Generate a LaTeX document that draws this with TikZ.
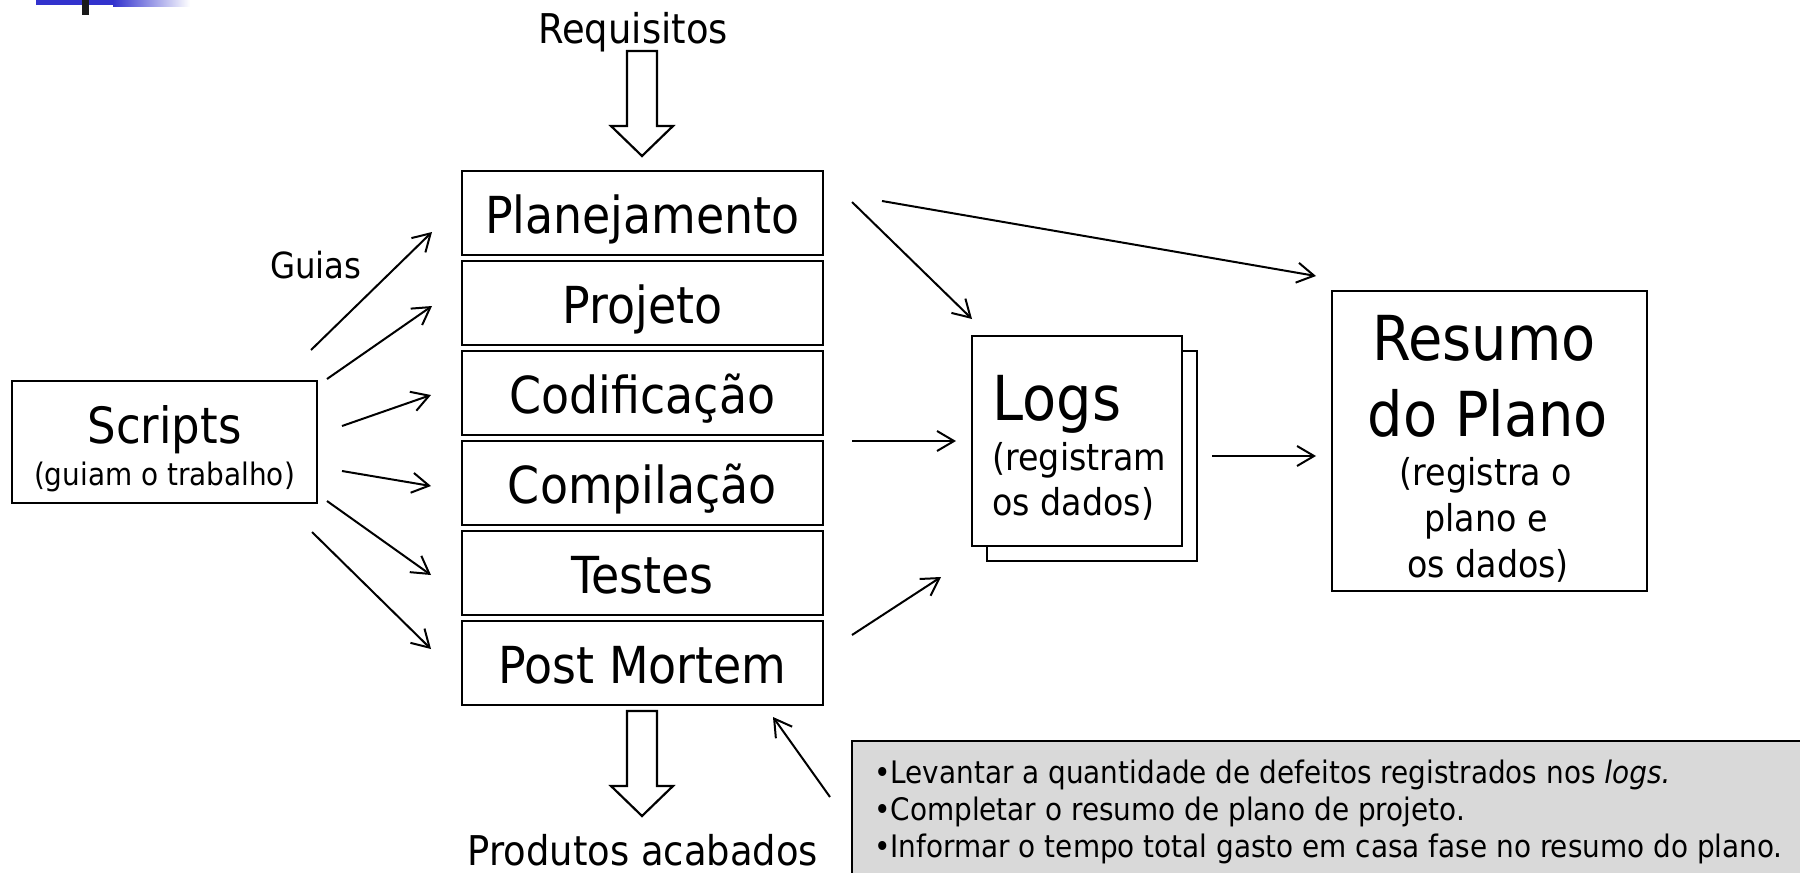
\documentclass[tikz,border=0pt]{standalone}
\usepackage{fontspec}
\setmainfont{DejaVu Sans}[FakeStretch=0.9]
\usetikzlibrary{arrows.meta}

\definecolor{logoblue}{RGB}{50,50,205}
\definecolor{notegray}{RGB}{217,217,217}

\tikzset{
  box/.style    = {draw, line width=1.1pt, inner sep=0pt},
  stage/.style  = {box, minimum width=180.5pt, minimum height=42pt,
                   font=\fontsize{25.5}{30}\selectfont,
                   text height=20pt, text depth=0pt},
  big/.style    = {inner sep=0pt, font=\fontsize{31}{37}\selectfont},
  small/.style  = {inner sep=0pt, font=\fontsize{18.5}{22}\selectfont},
  flow/.style   = {line width=1pt, -{Straight Barb[length=8.5pt,width=10pt]}},
  fat/.style    = {draw, line width=1.1pt, fill=white, line join=miter},
  note/.style   = {draw, line width=1.1pt, fill=notegray, align=left,
                   font=\fontsize{15.5}{18.5}\selectfont,
                   inner xsep=11pt, inner ysep=9.2pt, minimum width=473.5pt}
}

\begin{document}
\begin{tikzpicture}[x=0.5pt, y=-0.5pt]
 \useasboundingbox (0,0) rectangle (1800,873);

 % logo strip in the corner
 \fill[logoblue] (36,0) rectangle (113,5);
 \shade[left color=logoblue, right color=white] (113,0) rectangle (190,6);
 \fill[black!90] (82,0) rectangle (89,15);

 % phases
 \node[stage] (plan) at (642.5,213) {Planejamento};
 \node[stage] (proj) at (642.5,303) {Projeto};
 \node[stage] (cod)  at (642.5,393) {Codificação};
 \node[stage] (comp) at (642.5,483) {Compilação};
 \node[stage] (test) at (642.5,573) {Testes};
 \node[stage] (pm)   at (642.5,663) {Post Mortem};

 % inputs and outputs
 \node[inner sep=0pt, anchor=base, font=\fontsize{20.5}{24}\selectfont] (req) at (633,43) {Requisitos};
 \node[inner sep=0pt, anchor=base, font=\fontsize{20.5}{24}\selectfont] (prod) at (643,865) {Produtos acabados};
 \foreach \y in {51,711}
   \draw[fat] (627,\y) -- (657,\y) -- (657,{\y+75}) -- (673,{\y+75})
     -- (642,{\y+105}) -- (611,{\y+75}) -- (627,{\y+75}) -- cycle;

 % scripts
 \node[box, minimum width=152.5pt, minimum height=61pt] (scripts) at (164.5,442) {};
 \node[inner sep=0pt, anchor=base, font=\fontsize{25}{30}\selectfont] (scriptsname) at (164.5,443) {Scripts};
 \node[inner sep=0pt, anchor=base, font=\fontsize{15.5}{18}\selectfont] (scriptsnote) at (164.5,485) {(guiam o trabalho)};
 \node[inner sep=0pt, anchor=base, font=\fontsize{18}{22}\selectfont] (guias) at (316,278) {Guias};

 \foreach \i/\sx/\sy/\tx/\ty in {1/311/350/432/232, 2/327/379/432/306,
                                 3/342/426/431/395, 4/342/471/431/486,
                                 5/327/501/431/575, 6/312/532/431/649}{
   \coordinate (sc\i) at (\sx,\sy);
   \coordinate (st\i) at (\tx,\ty);
   \draw[flow] (sc\i) -- (st\i);
 }

 % logs
 \node[box, fill=white, minimum width=105pt, minimum height=105pt] (logsback) at (1092,456) {};
 \node[box, fill=white, minimum width=105pt, minimum height=105pt] (logs) at (1077,441) {};
 \node[big, anchor=base west] (logsname) at (992,420) {Logs};
 \node[small, anchor=base west] (logsa) at (992,470) {(registram};
 \node[small, anchor=base west] (logsb) at (992,515) {os dados)};

 % plan summary
 \node[box, minimum width=157.5pt, minimum height=150pt] (resumo) at (1489.5,441) {};
 \node[big, anchor=base] (resumoa) at (1484,360) {Resumo};
 \node[big, anchor=base] (resumob) at (1488,436) {do Plano};
 \node[small, anchor=base] (resumoc) at (1486,485) {(registra o};
 \node[small, anchor=base] (resumod) at (1486,531) {plano e};
 \node[small, anchor=base] (resumoe) at (1488,577) {os dados)};

 \coordinate (pl1) at (852,202);  \coordinate (lg1) at (972,319);
 \coordinate (pl2) at (882,201);  \coordinate (rs1) at (1316,276);
 \coordinate (cd1) at (852,441);  \coordinate (lg2) at (956,441);
 \coordinate (pm1) at (852,635);  \coordinate (lg3) at (941,577);
 \coordinate (lg4) at (1212,456); \coordinate (rs2) at (1316,456);
 \draw[flow] (pl1) -- (lg1);
 \draw[flow] (pl2) -- (rs1);
 \draw[flow] (cd1) -- (lg2);
 \draw[flow] (pm1) -- (lg3);
 \draw[flow] (lg4) -- (rs2);

 % post mortem tasks
 \node[note, anchor=north west] (tasks) at (851,740)
   {•Levantar a quantidade de defeitos registrados nos \textit{logs.}\\
    •Completar o resumo de plano de projeto.\\
    •Informar o tempo total gasto em casa fase no resumo do plano.};
 \coordinate (tk1) at (830,797); \coordinate (pm2) at (773,717);
 \draw[flow] (tk1) -- (pm2);
\end{tikzpicture}
\end{document}
